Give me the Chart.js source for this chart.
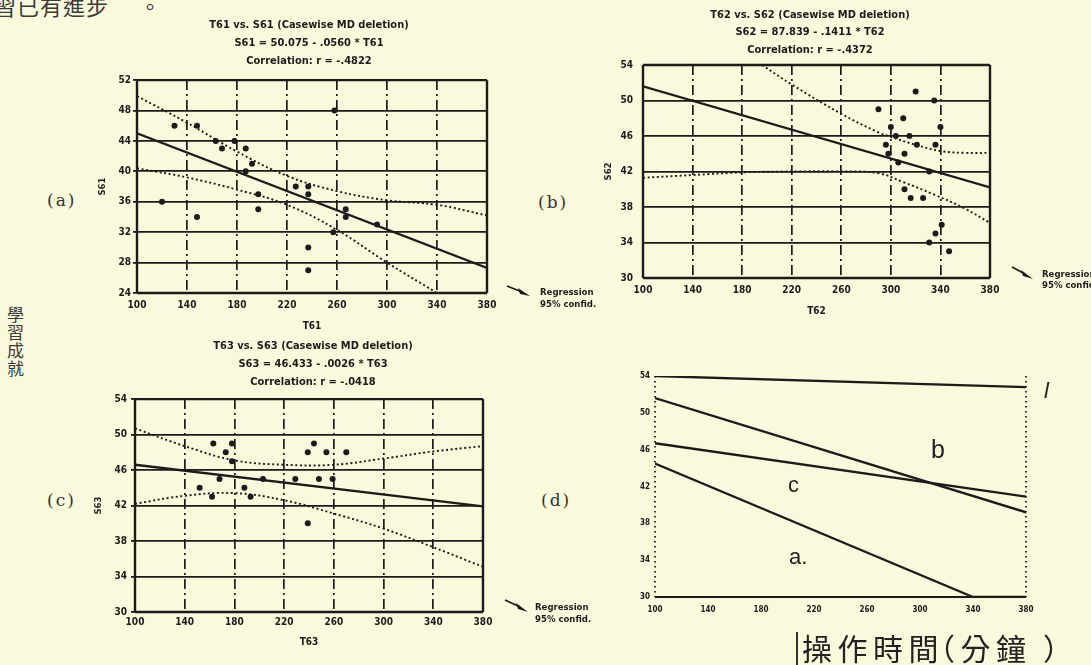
<!DOCTYPE html>
<html>
<head>
<meta charset="utf-8">
<title>T6 scatter plots</title>
<script src="https://cdn.jsdelivr.net/npm/chart.js@4.4.1/dist/chart.umd.min.js"></script>
<style>
  html, body { margin: 0; padding: 0; }
  body { width: 1091px; height: 665px; background: #fbf9dc; position: relative; overflow: hidden;
         font-family: 'DejaVu Sans Condensed', 'DejaVu Sans', sans-serif; color: #1b1b1b; }
  canvas { position: absolute; }
  .zh { position: absolute; font-family: 'Noto Sans CJK TC', 'Noto Sans CJK SC', sans-serif; color: #3a3a3a; white-space: nowrap; }
  .tag { position: absolute; font-family: 'DejaVu Serif', serif; font-size: 17px; letter-spacing: 2px; line-height: 20px; color: #333; }
  .leg { position: absolute; font-size: 9.5px; font-weight: bold; color: #1b1b1b; white-space: nowrap; }
  .arrow { position: absolute; }
  .lab { position: absolute; font-family: 'Liberation Sans', Arial, sans-serif; color: #222; }
</style>
</head>
<body>

<div class="zh" style="left:-6px; top:-8px; font-size:22px; line-height:26px; letter-spacing:1px;">習已有進步<span style="margin-left:30px">。</span></div>
<div class="zh" style="left:6px; top:306px; font-size:17px; line-height:18px; writing-mode:vertical-rl; letter-spacing:1px;">學習成就</div>

<div class="tag" style="left:47px; top:190px;">(a)</div>
<div class="tag" style="left:538px; top:192px;">(b)</div>
<div class="tag" style="left:47px; top:490px;">(c)</div>
<div class="tag" style="left:541px; top:490px;">(d)</div>

<canvas id="chartA" width="430" height="333" style="left:94px; top:0px;"></canvas>
<canvas id="chartB" width="420" height="318" style="left:600px; top:0px;"></canvas>
<canvas id="chartC" width="442" height="322" style="left:92px; top:330px;"></canvas>
<canvas id="chartD" width="421" height="262" style="left:625px; top:360px;"></canvas>

<!-- legends beside the plots -->
<svg class="arrow" style="left:506px; top:284px" width="26" height="14"><line x1="1" y1="2" x2="16" y2="8" stroke="#1b1b1b" stroke-width="1.6"/><path d="M12 4 L24 12 L14 10 Z" fill="#1b1b1b"/></svg>
<div class="leg" style="left:540px; top:286px; line-height:12px;">Regression<br>95% confid.</div>
<svg class="arrow" style="left:1011px; top:265px" width="24" height="16"><line x1="1" y1="2" x2="14" y2="9" stroke="#1b1b1b" stroke-width="1.6"/><path d="M10 5 L22 14 L12 11 Z" fill="#1b1b1b"/></svg>
<div class="leg" style="left:1042px; top:268px; line-height:11px;">Regression<br>95% confid.</div>
<svg class="arrow" style="left:504px; top:598px" width="26" height="16"><line x1="1" y1="2" x2="16" y2="9" stroke="#1b1b1b" stroke-width="1.6"/><path d="M12 5 L24 14 L14 11 Z" fill="#1b1b1b"/></svg>
<div class="leg" style="left:535px; top:601px; line-height:12px;">Regression<br>95% confid.</div>

<!-- labels inside panel (d) -->
<div class="lab" style="left:931px; top:437px; font-size:25px; line-height:25px;">b</div>
<div class="lab" style="left:788px; top:474px; font-size:22px; line-height:22px;">c</div>
<div class="lab" style="left:789px; top:546px; font-size:22px; line-height:22px;">a.</div>
<div class="lab" style="left:1044px; top:380px; font-size:22px; line-height:22px; font-style:italic;">l</div>

<div style="position:absolute; left:796px; top:632px; width:2px; height:33px; background:#333;"></div>
<div class="zh" style="left:802px; top:632px; font-size:30px; line-height:30px; letter-spacing:5.5px; color:#222;">操作時間<span style="margin-left:-19px;">（</span>分<span style="letter-spacing:17px;">鐘</span>）</div>

<script>
'use strict';

// axis ticks
const xTicks = [100, 140, 180, 220, 260, 300, 340, 380];
const yTicksA = [24, 28, 32, 36, 40, 44, 48, 52];
const yTicksB = [30, 34, 38, 42, 46, 50, 54];

// (a) T61 vs S61
const t61 = [120, 130, 148, 148, 163, 168, 178, 187, 187, 192, 197, 197, 227, 237, 237, 237, 237, 257, 258, 267, 267, 292];
const s61 = [36, 46, 46, 34, 44, 43, 44, 43, 40, 41, 37, 35, 38, 38, 37, 30, 27, 32, 48, 35, 34, 33];
const regT61 = [100, 380];
const regS61 = [45.0, 27.3];
const hiT61 = [100, 140, 180, 220, 260, 300, 340, 380];
const hiS61 = [49.9, 46.4, 42.6, 39.4, 37.4, 36.2, 35.6, 34.2];
const loT61 = [100, 140, 180, 220, 260, 300, 340];
const loS61 = [40.4, 39.2, 37.6, 35.6, 32.3, 28.0, 24.0];

// (b) T62 vs S62
const t62 = [290, 300, 310, 320, 335, 340, 296, 298, 306, 311, 321, 336, 331, 311, 316, 326, 341, 336, 331, 347, 304, 315];
const s62 = [49, 47, 48, 51, 50, 47, 45, 44, 43, 44, 45, 45, 42, 40, 39, 39, 36, 35, 34, 33, 46, 46];
const regT62 = [100, 380];
const regS62 = [51.6, 40.2];
const hiT62 = [196, 220, 260, 290, 300, 320, 340, 360, 380];
const hiS62 = [54.0, 51.8, 48.5, 46.4, 45.9, 45.0, 44.3, 44.1, 44.1];
const loT62 = [100, 140, 180, 220, 260, 290, 310, 335, 360, 380];
const loS62 = [41.3, 41.6, 41.9, 42.0, 42.0, 41.8, 40.8, 39.4, 37.8, 36.2];

// (c) T63 vs S63
const t63 = [163, 178, 173, 178, 168, 152, 162, 188, 193, 203, 229, 239, 244, 254, 270, 248, 259, 239];
const s63 = [49, 49, 48, 47, 45, 44, 43, 44, 43, 45, 45, 48, 49, 48, 48, 45, 45, 40];
const regT63 = [100, 380];
const regS63 = [46.6, 41.9];
const hiT63 = [100, 140, 180, 220, 260, 300, 340, 380];
const hiS63 = [50.7, 48.7, 47.1, 46.6, 46.6, 47.3, 48.1, 48.7];
const loT63 = [100, 140, 180, 220, 260, 300, 340, 380];
const loS63 = [42.2, 43.1, 43.4, 42.6, 41.1, 39.4, 37.3, 35.1];

// (d) the regression lines side by side
const lineLT = [100, 380];
const lineLS = [54.0, 52.8];
const lineBT = [100, 380];
const lineBS = [51.6, 39.2];
const lineCT = [100, 380];
const lineCS = [46.7, 40.9];
const lineAT = [100, 340, 380];
const lineAS = [44.5, 30.0, 30.0];

const ink = '#1b1b1b';
const cond = "'DejaVu Sans Condensed', 'Liberation Sans Narrow', 'DejaVu Sans', sans-serif";

function pairs(xs, ys) {
  return xs.map((x, i) => ({ x: x, y: ys[i] }));
}

// box around the plot area
const framePlugin = {
  id: 'frame',
  defaults: { color: '#1b1b1b', width: 2.4, top: [], right: [], bottom: [], left: [] },
  beforeDatasetsDraw(chart, args, opts) {
    const ctx = chart.ctx;
    const a = chart.chartArea;
    const sides = [
      ['top', a.left, a.top, a.right, a.top],
      ['right', a.right, a.top, a.right, a.bottom],
      ['bottom', a.left, a.bottom, a.right, a.bottom],
      ['left', a.left, a.top, a.left, a.bottom]
    ];
    ctx.save();
    ctx.strokeStyle = opts.color;
    ctx.lineWidth = opts.width;
    sides.forEach(s => {
      const dash = opts[s[0]];
      if (!dash) return;
      ctx.setLineDash(dash);
      ctx.beginPath();
      ctx.moveTo(s[1], s[2]);
      ctx.lineTo(s[3], s[4]);
      ctx.stroke();
    });
    ctx.restore();
  }
};
Chart.register(framePlugin);

function pointSet(data) {
  return { data: data, showLine: false, pointRadius: 3, pointBackgroundColor: ink, pointBorderWidth: 0 };
}
function solidSet(data) {
  return { data: data, showLine: true, borderColor: ink, borderWidth: 2.3, pointRadius: 0, tension: 0 };
}
function dottedSet(data) {
  return { data: data, showLine: true, borderColor: ink, borderWidth: 1.9, borderDash: [2, 2.6], pointRadius: 0, tension: 0.4 };
}

function plotConfig(o) {
  return {
    type: 'scatter',
    data: { datasets: o.datasets },
    options: {
      responsive: false,
      animation: false,
      events: [],
      layout: { padding: { top: o.padTop || 0 } },
      plugins: {
        legend: { display: false },
        tooltip: { enabled: false },
        title: o.title ? {
          display: true, text: o.title, color: ink,
          font: { family: cond, size: 11, weight: 'bold', lineHeight: o.titleLH },
          padding: { top: o.titleTop, bottom: o.titleBottom }
        } : { display: false },
        frame: o.frame
      },
      scales: {
        x: {
          type: 'linear', min: 100, max: 380,
          afterBuildTicks: s => { s.ticks = xTicks.map(v => ({ value: v })); },
          afterFit: s => { s.height = o.xH; },
          ticks: { padding: o.xPad, color: ink, font: o.tickFont, maxRotation: 0, autoSkip: false },
          grid: {
            display: o.grid, drawTicks: false, lineWidth: 1.7,
            color: c => (c.tick && (c.tick.value === 100 || c.tick.value === 380)) ? 'rgba(0,0,0,0)' : ink
          },
          border: { display: false, dash: [10, 4, 2, 4] },
          title: o.xTitle ? {
            display: true, text: o.xTitle, color: ink,
            font: { family: cond, size: 10, weight: 'bold' }, padding: { top: 0, bottom: o.xTitlePad }
          } : { display: false }
        },
        y: {
          type: 'linear', min: o.yTicks[0], max: o.yTicks[o.yTicks.length - 1],
          afterBuildTicks: s => { s.ticks = o.yTicks.map(v => ({ value: v })); },
          afterFit: s => { s.width = o.yW; },
          ticks: { padding: o.yPad, color: ink, font: o.tickFont },
          grid: {
            display: o.grid, lineWidth: 1.8, color: ink,
            drawTicks: o.yTickLen > 0, tickLength: o.yTickLen, tickColor: ink, tickWidth: 1.8
          },
          border: { display: false },
          title: o.yTitle ? {
            display: true, text: o.yTitle, color: ink,
            font: { family: cond, size: 9.5, weight: 'bold' }, padding: { top: o.yTitlePad, bottom: 0 }
          } : { display: false }
        },
        yR: {
          position: 'right', display: true,
          afterFit: s => { s.width = o.rW; },
          ticks: { display: false },
          grid: { display: false, drawTicks: false },
          border: { display: false }
        }
      }
    }
  };
}

const boldTicks = { family: cond, size: 10, weight: 'bold' };
const fullFrame = { top: [], right: [], bottom: [], left: [] };

new Chart(document.getElementById('chartA'), plotConfig({
  datasets: [
    pointSet(pairs(t61, s61)),
    solidSet(pairs(regT61, regS61)),
    dottedSet(pairs(hiT61, hiS61)),
    dottedSet(pairs(loT61, loS61))
  ],
  title: ['T61 vs. S61 (Casewise MD deletion)', 'S61 = 50.075 - .0560 * T61', 'Correlation: r = -.4822'],
  titleLH: 1.64, titleTop: 16, titleBottom: 10,
  yTicks: yTicksA, yW: 43, yPad: 2, yTickLen: 4, rW: 37,
  xH: 40, xPad: 6, xTitle: 'T61', xTitlePad: 1, yTitle: 'S61', yTitlePad: 3,
  tickFont: boldTicks, grid: true, frame: fullFrame
}));

new Chart(document.getElementById('chartB'), plotConfig({
  datasets: [
    pointSet(pairs(t62, s62)),
    solidSet(pairs(regT62, regS62)),
    dottedSet(pairs(hiT62, hiS62)),
    dottedSet(pairs(loT62, loS62))
  ],
  title: ['T62 vs. S62 (Casewise MD deletion)', 'S62 = 87.839 - .1411 * T62', 'Correlation: r = -.4372'],
  titleLH: 1.59, titleTop: 6, titleBottom: 6.5,
  yTicks: yTicksB, yW: 43, yPad: 10, yTickLen: 0, rW: 30,
  xH: 40, xPad: 6, xTitle: 'T62', xTitlePad: 1, yTitle: 'S62', yTitlePad: 3,
  tickFont: boldTicks, grid: true, frame: fullFrame
}));

new Chart(document.getElementById('chartC'), plotConfig({
  datasets: [
    pointSet(pairs(t63, s63)),
    solidSet(pairs(regT63, regS63)),
    dottedSet(pairs(hiT63, hiS63)),
    dottedSet(pairs(loT63, loS63))
  ],
  title: ['T63 vs. S63 (Casewise MD deletion)', 'S63 = 46.433 - .0026 * T63', 'Correlation: r = -.0418'],
  titleLH: 1.64, titleTop: 7, titleBottom: 8,
  yTicks: yTicksB, yW: 43, yPad: 4, yTickLen: 4, rW: 51,
  xH: 40, xPad: 4, xTitle: 'T63', xTitlePad: 4, yTitle: 'S63', yTitlePad: 1,
  tickFont: boldTicks, grid: true, frame: fullFrame
}));

new Chart(document.getElementById('chartD'), plotConfig({
  datasets: [
    solidSet(pairs(lineLT, lineLS)),
    solidSet(pairs(lineBT, lineBS)),
    solidSet(pairs(lineCT, lineCS)),
    solidSet(pairs(lineAT, lineAS))
  ],
  padTop: 16,
  yTicks: yTicksB, yW: 30, yPad: 5, yTickLen: 0, rW: 20,
  xH: 25, xPad: 8,
  tickFont: { family: cond, size: 8, weight: 'bold' }, grid: false,
  frame: { width: 1.8, top: false, right: [1.5, 3.5], bottom: [], left: [1.5, 3.5] }
}));
</script>
</body>
</html>
